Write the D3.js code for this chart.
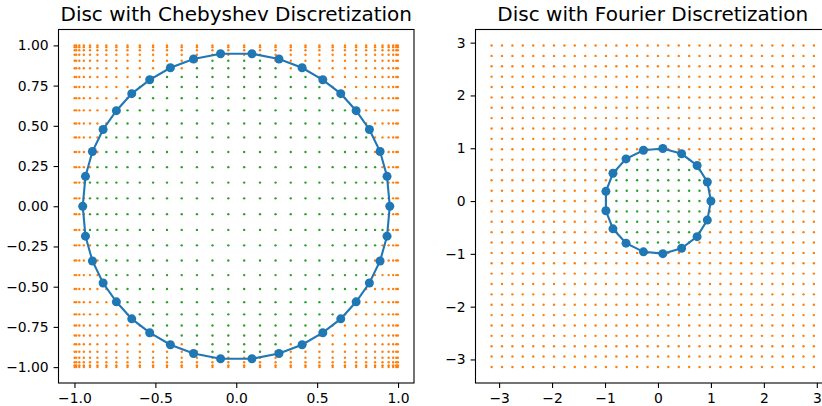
<!DOCTYPE html>
<html>
<head>
<meta charset="utf-8">
<script src="https://cdn.jsdelivr.net/npm/d3@7"></script>
<style>
  body { margin: 0; background: #fff; }
  svg { display: block; font-family: "DejaVu Sans", sans-serif; }
</style>
</head>
<body>
<svg id="chart"></svg>
<script>
// grid coordinates (same values used for x and y)
var chebGrid = [-0.999, -0.989, -0.970, -0.942, -0.904, -0.858, -0.803, -0.741,
                -0.672, -0.596, -0.514, -0.428, -0.337, -0.243, -0.147, -0.049,
                 0.049,  0.147,  0.243,  0.337,  0.428,  0.514,  0.596,  0.672,
                 0.741,  0.803,  0.858,  0.904,  0.942,  0.970,  0.989,  0.999];
var fourierGrid = [-3.142, -2.945, -2.749, -2.553, -2.356, -2.160, -1.963, -1.767,
                   -1.571, -1.374, -1.178, -0.982, -0.785, -0.589, -0.393, -0.196,
                    0.000,  0.196,  0.393,  0.589,  0.785,  0.982,  1.178,  1.374,
                    1.571,  1.767,  1.963,  2.160,  2.356,  2.553,  2.749,  2.945];

// boundary points of each disc
var chebBoundX = [0.949, 0.932, 0.889, 0.823, 0.741, 0.646, 0.535, 0.407, 0.264, 0.097,
                  -0.097, -0.264, -0.407, -0.535, -0.646, -0.741, -0.823, -0.889, -0.932, -0.949,
                  -0.932, -0.889, -0.823, -0.741, -0.646, -0.535, -0.407, -0.264, -0.097,
                  0.097, 0.264, 0.407, 0.535, 0.646, 0.741, 0.823, 0.889, 0.932];
var chebBoundY = [0.000, 0.186, 0.340, 0.477, 0.594, 0.700, 0.786, 0.861, 0.915, 0.948,
                  0.948, 0.915, 0.861, 0.786, 0.700, 0.594, 0.477, 0.340, 0.186, 0.000,
                  -0.186, -0.340, -0.477, -0.594, -0.700, -0.786, -0.861, -0.915, -0.948,
                  -0.948, -0.915, -0.861, -0.786, -0.700, -0.594, -0.477, -0.340, -0.186];
var fourierBoundX = [1.000, 0.932, 0.739, 0.446, 0.092, -0.274, -0.603, -0.850, -0.983,
                     -0.983, -0.850, -0.603, -0.274, 0.092, 0.446, 0.739, 0.932];
var fourierBoundY = [0.000, 0.361, 0.674, 0.895, 0.996, 0.962, 0.798, 0.526, 0.184,
                     -0.184, -0.526, -0.798, -0.962, -0.996, -0.895, -0.674, -0.361];

// radius below which a grid node counts as interior (green)
var chebInner = 0.92,
    fourierInner = 1.0;

var chebTicksX = [-1.0, -0.5, 0.0, 0.5, 1.0];
var chebTicksY = [-1.0, -0.75, -0.5, -0.25, 0.0, 0.25, 0.5, 0.75, 1.0];
var fourierTicks = [-3, -2, -1, 0, 1, 2, 3];

var width = 822, height = 406;
var blue = "#1f77b4", orange = "#ff7f0e", green = "#2ca02c";

var svg = d3.select("#chart")
    .attr("width", width)
    .attr("height", height);

svg.append("rect").attr("width", width).attr("height", height).attr("fill", "#fff");

function drawPanel(opt) {
  var x = d3.scaleLinear().domain(opt.lim).range([opt.left, opt.right]);
  var y = d3.scaleLinear().domain(opt.lim).range([opt.bottom, opt.top]);

  var g = svg.append("g");

  // grid nodes
  var nodes = [];
  opt.grid.forEach(function(gx) {
    opt.grid.forEach(function(gy) {
      nodes.push({x: gx, y: gy, inside: gx * gx + gy * gy < opt.inner * opt.inner});
    });
  });

  g.append("g").selectAll("circle")
      .data(nodes.filter(function(d) { return !d.inside; }))
    .enter().append("circle")
      .attr("cx", function(d) { return x(d.x); })
      .attr("cy", function(d) { return y(d.y); })
      .attr("r", 1.2)
      .attr("fill", orange);

  g.append("g").selectAll("circle")
      .data(nodes.filter(function(d) { return d.inside; }))
    .enter().append("circle")
      .attr("cx", function(d) { return x(d.x); })
      .attr("cy", function(d) { return y(d.y); })
      .attr("r", 1.2)
      .attr("fill", green);

  // boundary
  var bound = opt.bx.map(function(v, i) { return [v, opt.by[i]]; });
  var line = d3.line()
      .x(function(d) { return x(d[0]); })
      .y(function(d) { return y(d[1]); })
      .curve(d3.curveLinearClosed);

  g.append("path")
      .attr("d", line(bound))
      .attr("fill", "none")
      .attr("stroke", blue)
      .attr("stroke-width", 2.1);

  g.append("g").selectAll("circle")
      .data(bound)
    .enter().append("circle")
      .attr("cx", function(d) { return x(d[0]); })
      .attr("cy", function(d) { return y(d[1]); })
      .attr("r", 4.5)
      .attr("fill", blue);

  // axes
  var xAxis = g.append("g")
      .attr("transform", "translate(0," + opt.bottom + ")")
      .call(d3.axisBottom(x).tickValues(opt.ticksX).tickFormat(opt.fmtX)
        .tickSize(4.9).tickPadding(4.9));
  var yAxis = g.append("g")
      .attr("transform", "translate(" + opt.left + ",0)")
      .call(d3.axisLeft(y).tickValues(opt.ticksY).tickFormat(opt.fmtY)
        .tickSize(4.9).tickPadding(4.9));

  [xAxis, yAxis].forEach(function(a) {
    a.select(".domain").remove();
    a.selectAll("line").attr("stroke", "#000").attr("stroke-width", 1.1);
    a.selectAll("text")
      .attr("fill", "#000")
      .style("font-family", "'DejaVu Sans', sans-serif")
      .style("font-size", "13.9px");
  });

  g.append("rect")
      .attr("x", opt.left)
      .attr("y", opt.top)
      .attr("width", opt.right - opt.left)
      .attr("height", opt.bottom - opt.top)
      .attr("fill", "none")
      .attr("stroke", "#000")
      .attr("stroke-width", 1.1);

  g.append("text")
      .attr("x", (opt.left + opt.right) / 2)
      .attr("y", opt.top - 8.3)
      .attr("text-anchor", "middle")
      .style("font-size", "20px")
      .attr("fill", "#000")
      .text(opt.title);
}

drawPanel({
  title: "Disc with Chebyshev Discretization",
  left: 58.5, right: 414, top: 29.5, bottom: 383,
  lim: [-1.0987, 1.0987],
  grid: chebGrid, inner: chebInner,
  bx: chebBoundX, by: chebBoundY,
  ticksX: chebTicksX, ticksY: chebTicksY,
  fmtX: d3.format(".1f"), fmtY: d3.format(".2f")
});

drawPanel({
  title: "Disc with Fourier Discretization",
  left: 475.5, right: 830, top: 29.5, bottom: 383,
  lim: [-3.446, 3.249],
  grid: fourierGrid, inner: fourierInner,
  bx: fourierBoundX, by: fourierBoundY,
  ticksX: fourierTicks, ticksY: fourierTicks,
  fmtX: d3.format("d"), fmtY: d3.format("d")
});
</script>
</body>
</html>
